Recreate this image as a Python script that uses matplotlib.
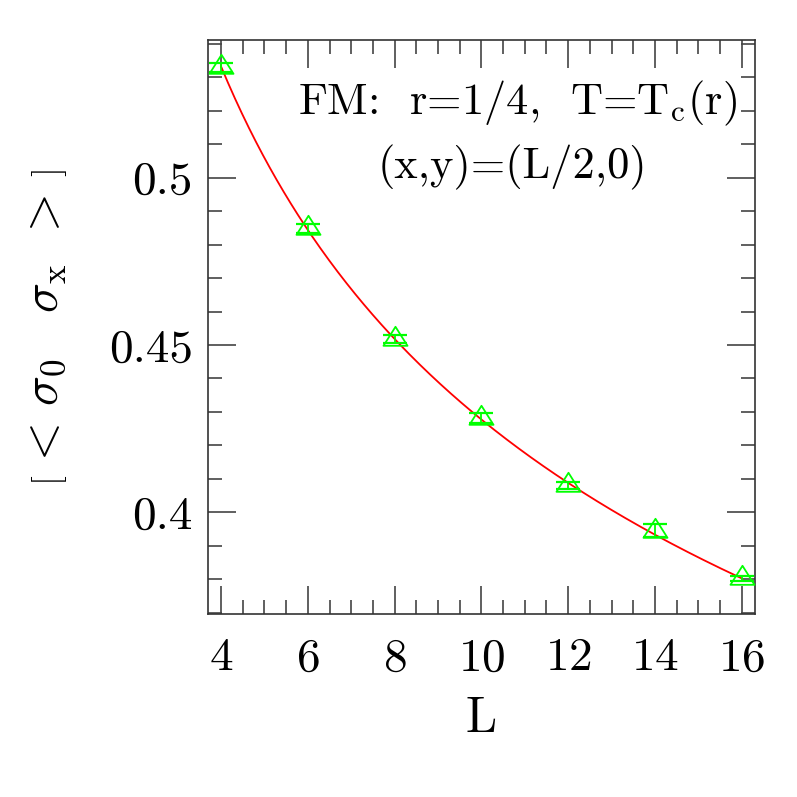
import numpy as np
import matplotlib.pyplot as plt
from matplotlib.path import Path
from matplotlib.ticker import MultipleLocator

# datos
L = [4, 6, 8, 10, 12, 14, 16]
corr = [0.5330, 0.4849, 0.4518, 0.4281, 0.4081, 0.3945, 0.3803]
err = [0.0013, 0.0013, 0.0013, 0.0015, 0.0010, 0.0020, 0.0007]
title1 = r'FM:  r=1/4,  T=T$_{\rm c}$(r)'
title2 = '(x,y)=(L/2,0)'

plt.rcParams['font.family'] = ['cmr10', 'DejaVu Serif']
plt.rcParams['mathtext.fontset'] = 'cm'
plt.rcParams['axes.formatter.use_mathtext'] = True

fig = plt.figure(figsize=(7.97, 7.97), dpi=100)
ax = fig.add_axes([0.261, 0.2296, 0.686, 0.7204])

# ajuste suave (log-log cuadratico) a los puntos
Lf = np.linspace(min(L), max(L), 300)
coef = np.polyfit(np.log(L), np.log(corr), 2, w=1.0 / np.array(err))
ax.plot(Lf, np.exp(np.polyval(coef, np.log(Lf))), color='#ff0000', lw=1.3, zorder=2)

# triangulo con el centroide en el punto
tri = Path([(0, 12.7), (-12, -6.3), (12, -6.3), (0, 12.7)],
           [Path.MOVETO, Path.LINETO, Path.LINETO, Path.CLOSEPOLY])
ax.errorbar(L, corr, yerr=err, fmt='none', ecolor='#00ff00', elinewidth=1.3,
            capsize=8.6, capthick=1.6, zorder=3)
ax.plot(L, corr, linestyle='none', marker=tri, markersize=18.3,
        markerfacecolor='none', markeredgecolor='#00ff00', markeredgewidth=1.3, zorder=4)

ax.set_xlim(3.7, 16.3)
ax.set_ylim(0.3696, 0.5412)
ax.xaxis.set_major_locator(MultipleLocator(2))
ax.xaxis.set_minor_locator(MultipleLocator(0.5))
ax.yaxis.set_major_locator(MultipleLocator(0.05))
ax.yaxis.set_minor_locator(MultipleLocator(0.01))
ax.yaxis.set_major_formatter(plt.FuncFormatter(lambda v, p: ('%.2f' % v).rstrip('0')))
ax.tick_params(which='both', direction='in', top=True, right=True, color='#444444', width=1.2)
ax.tick_params(which='major', length=20)
ax.tick_params(which='minor', length=10)
ax.tick_params(axis='x', which='major', labelsize=34, pad=17)
ax.tick_params(axis='y', which='major', labelsize=34, pad=11)
for s in ax.spines.values():
    s.set_linewidth(1.2)
    s.set_color('#333333')

ax.set_xlabel('L', fontsize=36, labelpad=12)
ax.set_ylabel(r'$\left[\,<\,\sigma_0\ \ \ \sigma_{\rm x}\ \,>\,\right]$', fontsize=36, labelpad=28)

ax.text(0.967, 0.890, title1, transform=ax.transAxes, ha='right', va='center', fontsize=32)
ax.text(0.556, 0.777, title2, transform=ax.transAxes, ha='center', va='center', fontsize=32)

fig.savefig('out.png', dpi=100)
